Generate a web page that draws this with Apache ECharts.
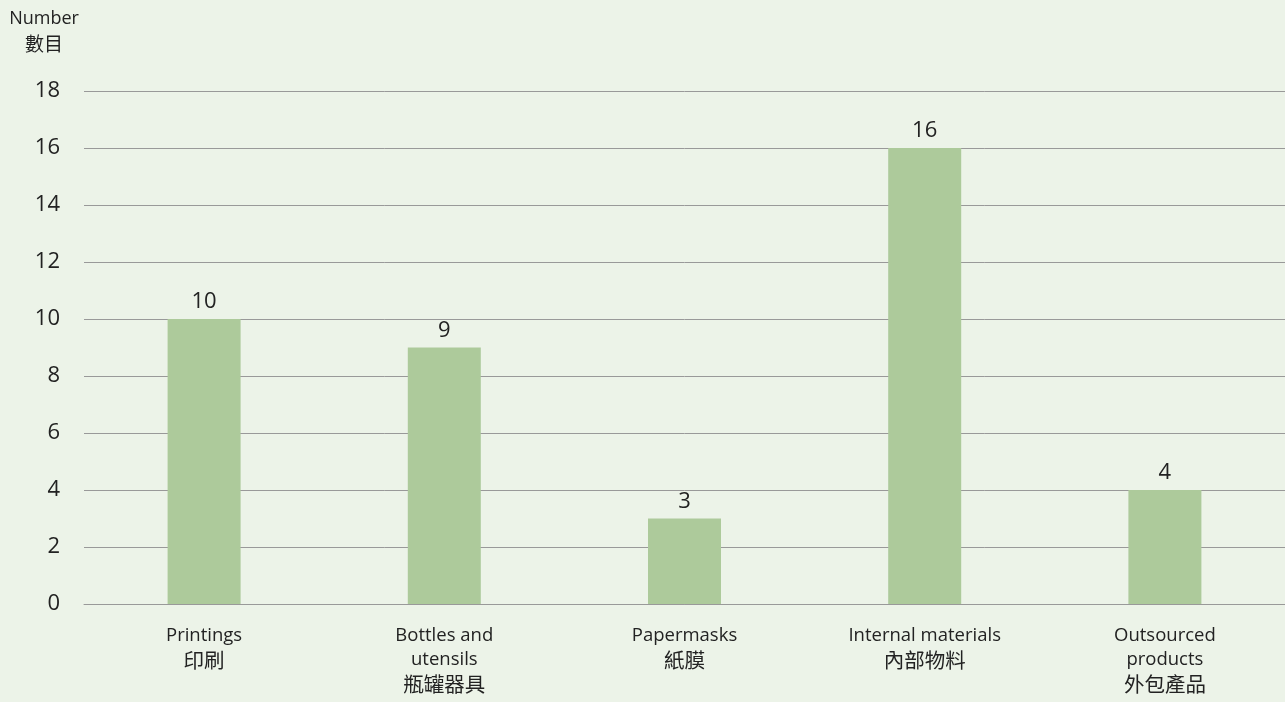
<!DOCTYPE html>
<html><head><meta charset="utf-8">
<script src="https://cdn.jsdelivr.net/npm/echarts@6/dist/echarts.min.js"></script>
<style>html,body{margin:0;padding:0;background:#ecf3e8;}#c{width:1285px;height:702px;}</style>
</head><body><div id="c"></div>
<script>
const categories = ['Printings\n印刷', 'Bottles and\nutensils\n瓶罐器具', 'Papermasks\n紙膜', 'Internal materials\n內部物料', 'Outsourced\nproducts\n外包產品'];
const values = [10, 9, 3, 16, 4];
const yTicks = {min: 0, max: 18, interval: 2};
const FONT = '"Open Sans", "Noto Sans CJK TC", sans-serif';
const CJK = '"Noto Sans CJK TC", sans-serif';
function richLabel(s) {
  const lines = s.split('\n');
  return lines.map((l, i) => i === lines.length - 1 ? '{c|' + l + '}' : '{e|' + l + '}').join('\n');
}
const chart = echarts.init(document.getElementById('c'));
chart.setOption({
  backgroundColor: '#ecf3e8',
  animation: false,
  textStyle: {fontFamily: FONT},
  graphic: [{
    type: 'text', x: 44, y: 6,
    style: {
      text: '{e|Number}\n{c|數目}', align: 'center', verticalAlign: 'top', fill: '#222',
      rich: {
        e: {fontSize: 18, lineHeight: 25, fontFamily: FONT, fill: '#222', align: 'center'},
        c: {fontSize: 19, lineHeight: 25, fontFamily: CJK, fill: '#222', align: 'center'}
      }
    }
  }],
  grid: {left: 84, right: 0, top: 91, bottom: 98},
  xAxis: {
    type: 'category', data: categories,
    axisTick: {show: false},
    axisLine: {lineStyle: {color: '#999', width: 1}},
    axisLabel: {
      color: '#222', margin: 20, interval: 0, formatter: richLabel,
      rich: {
        e: {fontSize: 18.5, lineHeight: 24, fontFamily: FONT, color: '#222'},
        c: {fontSize: 20.5, lineHeight: 24, fontFamily: CJK, color: '#222'}
      }
    }
  },
  yAxis: {
    type: 'value', min: yTicks.min, max: yTicks.max, interval: yTicks.interval,
    axisLine: {show: false}, axisTick: {show: false},
    splitLine: {lineStyle: {color: '#999', width: 1}},
    axisLabel: {fontSize: 22, color: '#222', margin: 24, fontFamily: FONT}
  },
  series: [{
    type: 'bar', data: values, barWidth: 73,
    itemStyle: {color: '#adca9b'},
    label: {show: true, position: 'top', fontSize: 22, color: '#222', distance: 6, fontFamily: FONT}
  }]
});
</script></body></html>
